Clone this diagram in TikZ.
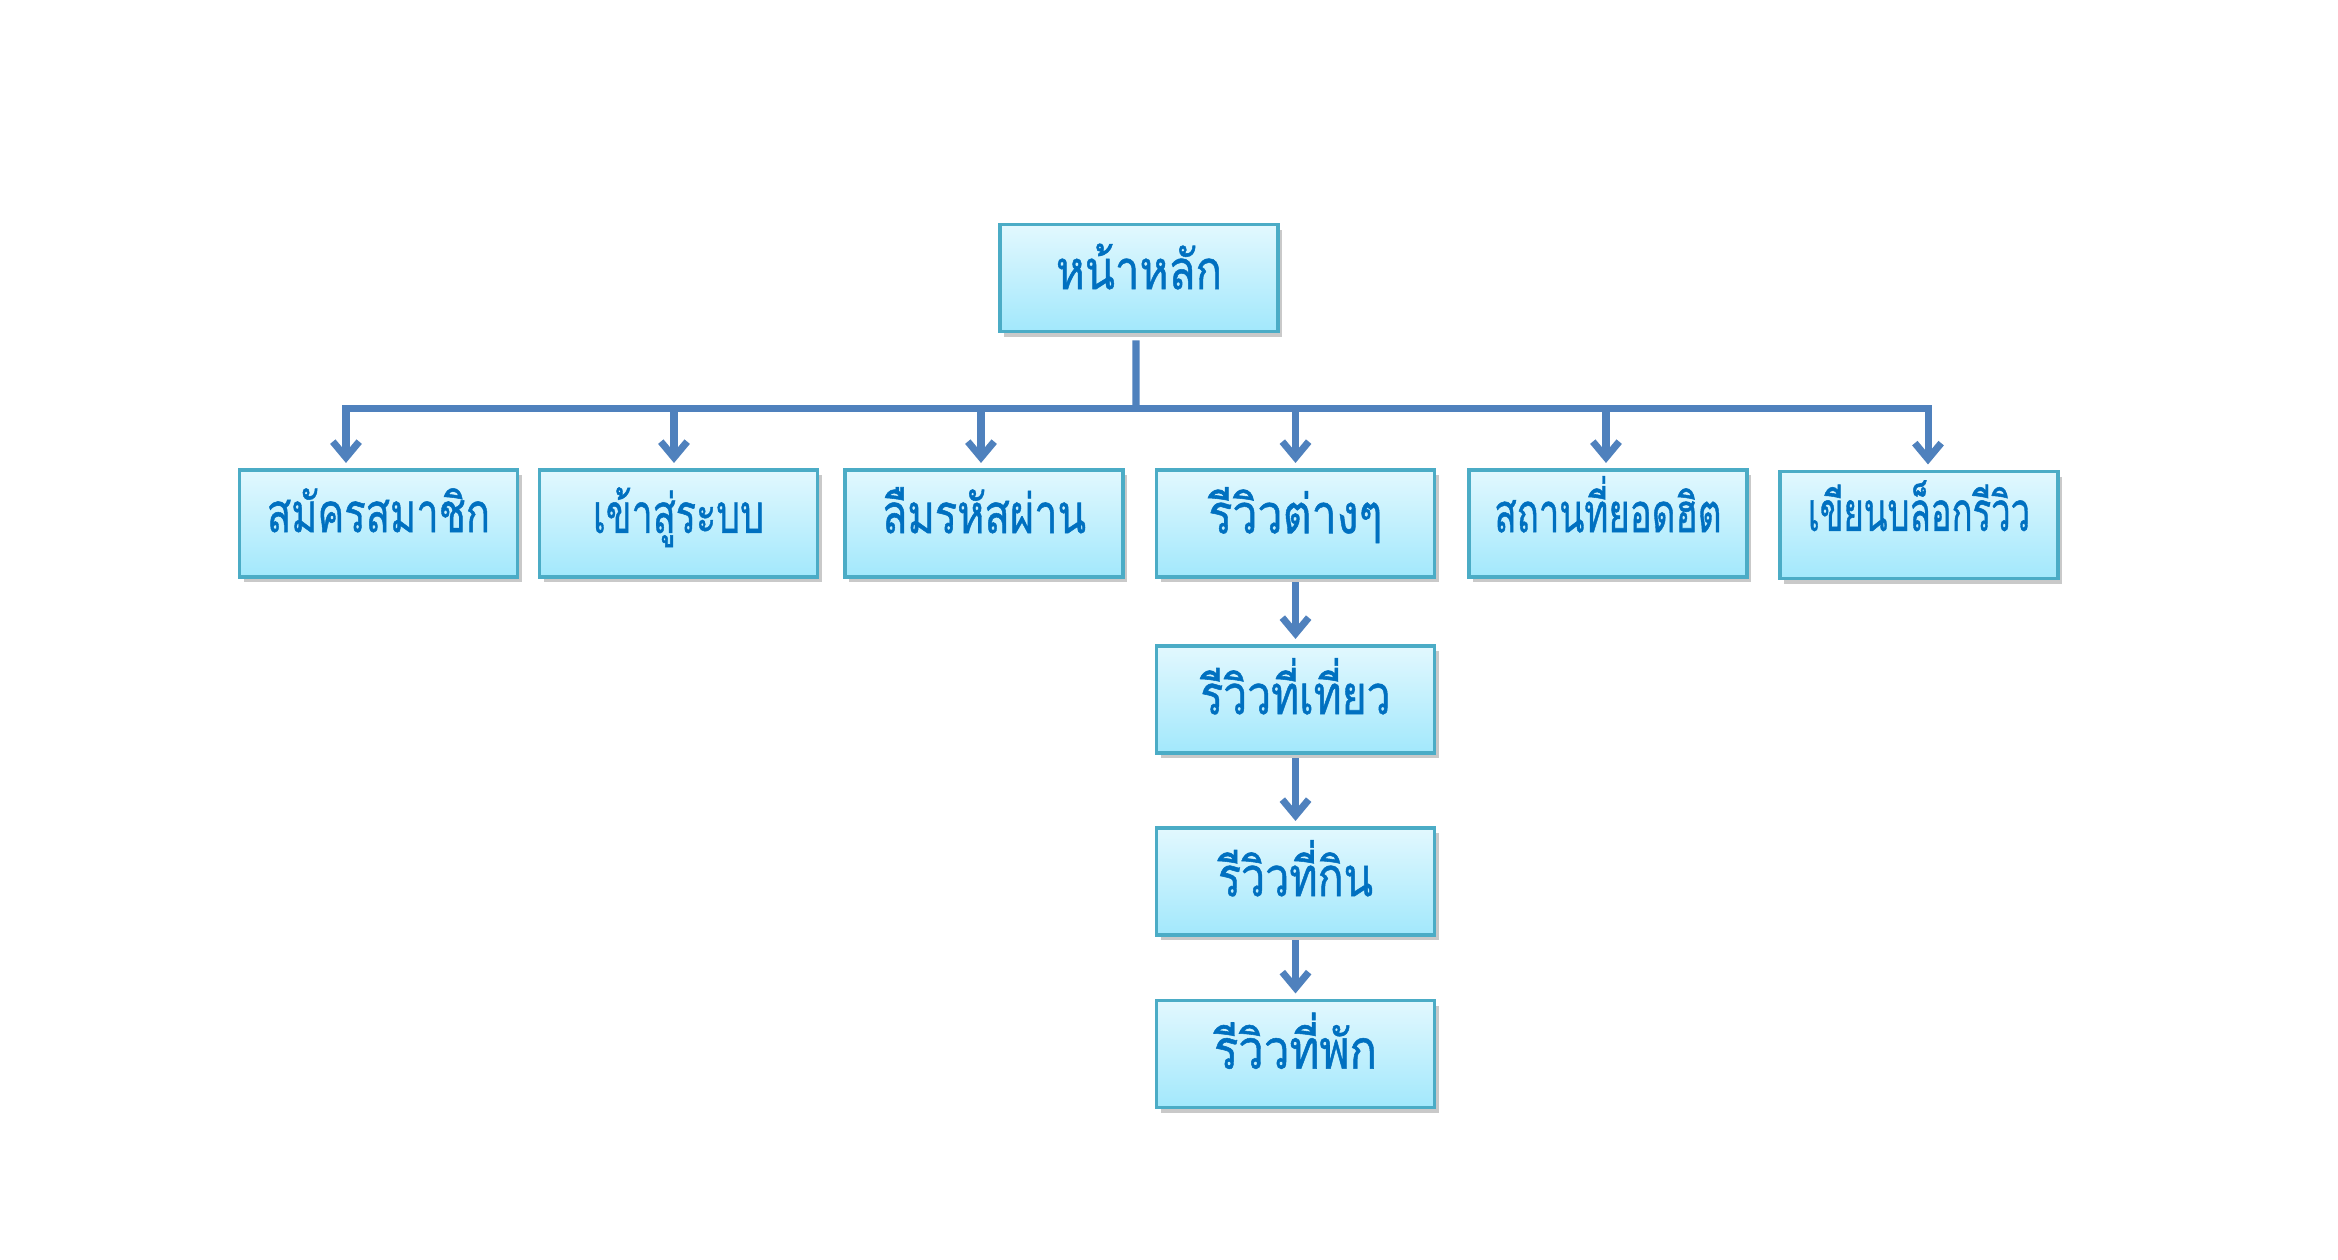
\documentclass[tikz,border=0pt]{standalone}
\usepackage{fontspec}
\usepackage{graphicx}
\newfontfamily\thaifont[Script=Thai,FakeBold=1]{Loma}
\usetikzlibrary{arrows.meta,shadows}
\definecolor{boxline}{HTML}{4BACC6}
\definecolor{boxtop}{HTML}{E2F8FE}
\definecolor{boxbot}{HTML}{A2E8FC}
\definecolor{txtblue}{HTML}{0070C0}
\definecolor{arrblue}{HTML}{4F81BD}
\newcommand\fitlabel[3]{\raisebox{#2}{\resizebox{#1}{\height}{#3}}}
\tikzset{
  menubox/.style={draw=boxline, line width=1pt, top color=boxtop, bottom color=boxbot,
    minimum width=2.78cm, minimum height=1.07cm, inner sep=0pt,
    drop shadow={shadow xshift=1.2pt, shadow yshift=-1.5pt, opacity=0.35, fill=black!60},
    font=\thaifont\fontsize{15.5}{18}\selectfont, text=txtblue},
  arr/.style={draw=arrblue, line width=2pt, -{Straight Barb[length=4.5pt,width=7.5pt,line width=2pt]}, shorten >=1.5pt},
  bar/.style={draw=arrblue, line width=2pt}
}
\begin{document}
\begin{tikzpicture}[x=0.01cm,y=-0.01cm]
\useasboundingbox[fill=white] (0,0) rectangle (2338,1259);
\node[menubox] (top) at (1139,278) {\fitlabel{1.66cm}{6.6pt}{หน้าหลัก}};
\node[menubox] (b1) at (378.5,523.5) {\fitlabel{2.23cm}{7.6pt}{สมัครสมาชิก}};
\node[menubox] (b2) at (678.5,523.5) {\fitlabel{1.71cm}{7.6pt}{เข้าสู่ระบบ}};
\node[menubox] (b3) at (984,523.5) {\fitlabel{2.04cm}{7.6pt}{ลืมรหัสผ่าน}};
\node[menubox] (b4) at (1295.5,523.5) {\fitlabel{1.74cm}{7.6pt}{รีวิวต่างๆ}};
\node[menubox] (b5) at (1608,523.5) {\fitlabel{2.27cm}{11pt}{สถานที่ยอดฮิต}};
\node[menubox] (b6) at (1919,525) {\fitlabel{2.22cm}{11pt}{เขียนบล็อกรีวิว}};
\node[menubox] (c1) at (1295.5,699.5) {\fitlabel{1.90cm}{7.6pt}{รีวิวที่เที่ยว}};
\node[menubox] (c2) at (1295.5,881.5) {\fitlabel{1.55cm}{7.6pt}{รีวิวที่กิน}};
\node[menubox] (c3) at (1295.5,1054) {\fitlabel{1.63cm}{7.6pt}{รีวิวที่พัก}};
\coordinate (bus) at (1136,408);
\draw[bar, shorten <=2pt] ([xshift=-0.03cm]top.south) -- (bus);
\draw[arr] (bus) -| ([xshift=-0.325cm]b1.north);
\draw[arr] (bus) -| ([xshift=-0.045cm]b2.north);
\draw[arr] (bus) -| ([xshift=-0.03cm]b3.north);
\draw[arr] (bus) -| (b4.north);
\draw[arr] (bus) -| ([xshift=-0.02cm]b5.north);
\draw[arr] (bus) -| ([xshift=0.09cm]b6.north);
\draw[arr, shorten <=1pt] (b4.south) -- (c1.north);
\draw[arr, shorten <=1pt] (c1.south) -- (c2.north);
\draw[arr, shorten <=1pt] (c2.south) -- (c3.north);
\end{tikzpicture}
\end{document}
